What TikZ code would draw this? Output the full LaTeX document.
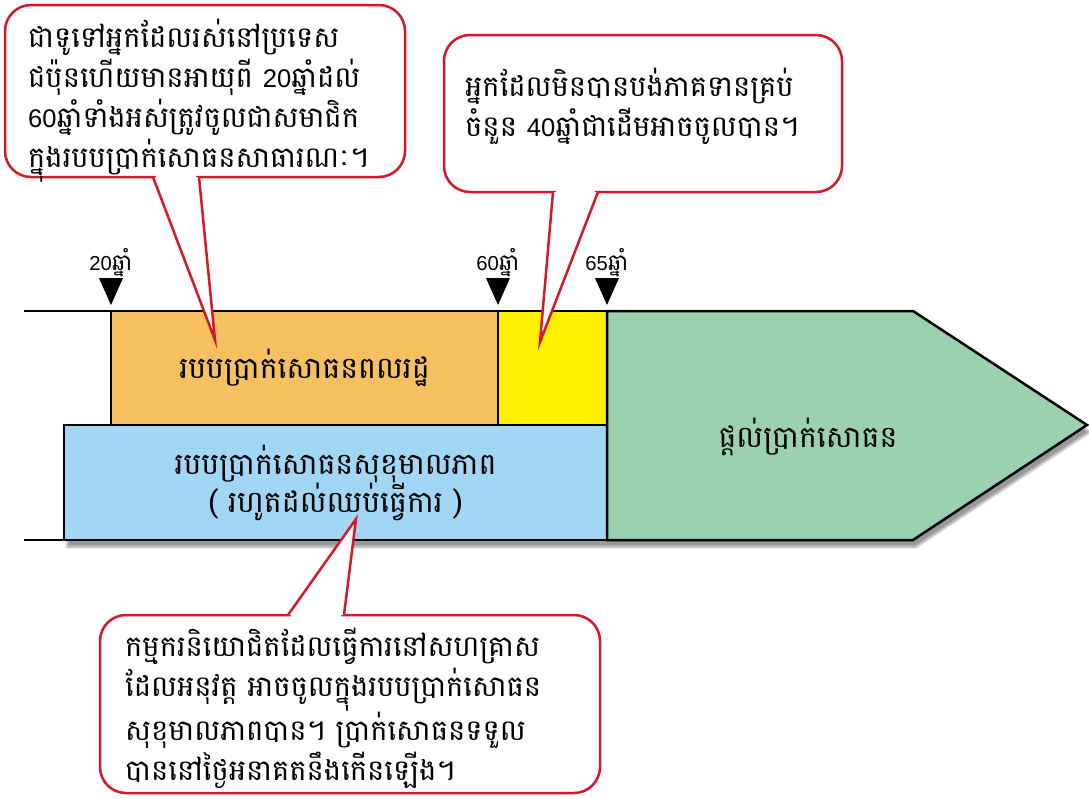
\documentclass[tikz,border=0pt]{standalone}
\usepackage{fontspec}
\setmainfont{Liberation Sans}
\newfontfamily\khmerfont[Script=Khmer]{Battambang}
\newfontfamily\digitfont[Scale=0.88]{Liberation Sans}
\usetikzlibrary{positioning, shadows.blur}

\definecolor{penorange}{HTML}{F6BF5F}
\definecolor{penyellow}{HTML}{FFF000}
\definecolor{penblue}{HTML}{A1D6F4}
\definecolor{pengreen}{HTML}{9BD1AE}
\definecolor{notered}{HTML}{D7182A}

\newcommand\yr[1]{{\digitfont #1}ឆ្នាំ}

\tikzset{
  plan/.style={draw, line width=2.5pt, inner sep=0pt, outer sep=0pt,
    font=\khmerfont\fontsize{30}{38}\selectfont},
  rail/.style={line width=2.5pt},
  age/.style={font=\khmerfont\fontsize{23}{23}\selectfont, inner sep=0pt},
  callout/.style={draw=notered, fill=white, line width=2.5pt, rounded corners=26pt, outer sep=0pt},
  notetext/.style={font=\khmerfont\fontsize{29}{40}\selectfont, align=left, inner sep=0pt},
}

\begin{document}
\begin{tikzpicture}[x=1pt, y=-1pt, line join=miter]
\useasboundingbox (0,0) rectangle (1089,798);

% shadow under the time line
\fill[white, blur shadow={shadow xshift=3pt, shadow yshift=-7pt, shadow blur steps=8}]
  (111,311) -- (913,311) -- (1087,425) -- (913,540) -- (64,540) -- (64,425) -- (111,425) -- cycle;

\coordinate (railtop) at (24,311);
\coordinate (railbot) at (24,540);

\node[plan, fill=penorange, minimum width=387pt, minimum height=114pt] (kokumin) at (304.5,368) {របបប្រាក់សោធនពលរដ្ឋ};
\node[plan, fill=penyellow, minimum width=109pt, minimum height=114pt] (gap) at (552.5,368) {};
\node[plan, fill=penblue, minimum width=543pt, minimum height=115pt, align=center] (kosei) at (335.5,482.5)
  {របបប្រាក់សោធនសុខុមាលភាព\\( រហូតដល់ឈប់ធ្វើការ )};
\draw[plan, fill=pengreen] (607,311) -- (913,311) -- (1087,425) -- (913,540) -- (607,540) -- cycle;
\node[plan, draw=none] (benefit) at (808,437) {ផ្តល់ប្រាក់សោធន};

\draw[rail] (railtop) -- (kokumin.north west);
\draw[rail] (railbot) -- (kosei.south west);

% age marks
\foreach \x/\a in {111/20, 498/60, 607/65} {
  \fill (\x-12,278) -- (\x+12,278) -- (\x,305) -- cycle;
  \node[age, anchor=base] (age\a) at (\x,270) {\yr{\a}};
}

% callouts
\node[callout, minimum width=400pt, minimum height=172pt] (note1) at (205,91) {};
\node[callout, minimum width=398pt, minimum height=157pt] (note2) at (643,113.5) {};
\node[callout, minimum width=500pt, minimum height=178pt] (note3) at (350,704) {};

\coordinate (tip1) at (215,340);
\coordinate (tip2) at (540,342);
\coordinate (tip3) at (356,519);

\foreach \n/\l/\r/\t in {note1.south/-52/-6/tip1, note2.south/-90/-45/tip2, note3.north/-62/-6/tip3} {
  \fill[white] ([xshift=\l pt]\n) -- (\t) -- ([xshift=\r pt]\n) -- cycle;
  \fill[white] ([xshift=\l pt+3pt, yshift=3pt]\n) rectangle ([xshift=\r pt-3pt, yshift=-3pt]\n);
  \draw[notered, line width=2.5pt] ([xshift=\l pt]\n) -- (\t) -- ([xshift=\r pt]\n);
}

\node[notetext, anchor=north west] (text1) at (28,19)
  {ជាទូទៅអ្នកដែលរស់នៅប្រទេស\\ជប៉ុនហើយមានអាយុពី \yr{20}ដល់\\\yr{60}ទាំងអស់ត្រូវចូលជាសមាជិក\\ក្នុងរបបប្រាក់សោធនសាធារណៈ។};
\node[notetext, anchor=north west] (text2) at (465,68)
  {អ្នកដែលមិនបានបង់ភាគទានគ្រប់\\ចំនួន \yr{40}ជាដើមអាចចូលបាន។};
\node[notetext, anchor=north west] (text3) at (125,628)
  {កម្មករនិយោជិតដែលធ្វើការនៅសហគ្រាស\\ដែលអនុវត្ត អាចចូលក្នុងរបបប្រាក់សោធន\\សុខុមាលភាពបាន។ ប្រាក់សោធនទទួល\\បាននៅថ្ងៃអនាគតនឹងកើនឡើង។};

\end{tikzpicture}
\end{document}
